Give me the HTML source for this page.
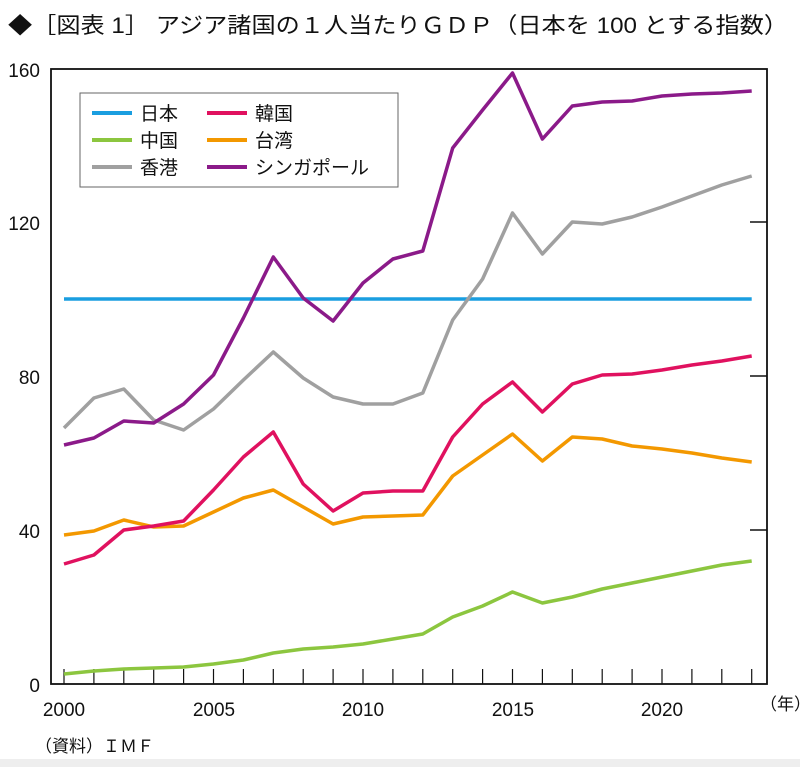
<!DOCTYPE html>
<html><head><meta charset="utf-8"><style>
body{margin:0;background:#fff;width:800px;height:767px;overflow:hidden}
text{font-family:"Liberation Sans","Noto Sans CJK JP",sans-serif;fill:#111}
</style></head><body>
<svg width="800" height="767" xmlns="http://www.w3.org/2000/svg">
<rect x="0" y="759" width="800" height="8" fill="#eeeeee"/>
<text x="8" y="33" font-size="22" textLength="780" lengthAdjust="spacingAndGlyphs">◆［図表 1］ アジア諸国の１人当たりＧＤＰ（日本を 100 とする指数）</text>
<rect x="51" y="69" width="716" height="615" fill="none" stroke="#111" stroke-width="1.8"/>
<g stroke="#111" stroke-width="1.5">
<line x1="750" y1="222" x2="767" y2="222"/><line x1="750" y1="376" x2="767" y2="376"/><line x1="750" y1="530" x2="767" y2="530"/>
<path id="tk" d=""/>
</g>
<g stroke="#111" stroke-width="1.2" id="ticks"></g>
<g font-size="19">
<text x="40" y="77" text-anchor="end">160</text>
<text x="40" y="230" text-anchor="end">120</text>
<text x="40" y="384" text-anchor="end">80</text>
<text x="40" y="538" text-anchor="end">40</text>
<text x="40" y="692" text-anchor="end">0</text>
<text x="64" y="716" text-anchor="middle">2000</text>
<text x="214" y="716" text-anchor="middle">2005</text>
<text x="363" y="716" text-anchor="middle">2010</text>
<text x="513" y="716" text-anchor="middle">2015</text>
<text x="662" y="716" text-anchor="middle">2020</text>
<text x="760" y="710" font-size="17">（年）</text>
<text x="35" y="752" font-size="17">（資料）ＩＭＦ</text>
</g>
<g fill="none" stroke-width="3.5" stroke-linejoin="round" id="lines"></g>
<rect x="80" y="93" width="318" height="94" fill="#fff" stroke="#666" stroke-width="1"/>
<g stroke-width="4">
<line x1="92" y1="113" x2="132" y2="113" stroke="#1a9ee0"/>
<line x1="92" y1="140" x2="132" y2="140" stroke="#8cc63f"/>
<line x1="92" y1="167" x2="132" y2="167" stroke="#a0a0a0"/>
<line x1="207" y1="113" x2="247" y2="113" stroke="#e0115f"/>
<line x1="207" y1="140" x2="247" y2="140" stroke="#f39800"/>
<line x1="207" y1="167" x2="247" y2="167" stroke="#8b1a89"/>
</g>
<g font-size="19">
<text x="140" y="120">日本</text><text x="140" y="147">中国</text><text x="140" y="174">香港</text>
<text x="255" y="120">韓国</text><text x="255" y="147">台湾</text><text x="255" y="174">シンガポール</text>
</g>
</svg>
<script>
var ns="http://www.w3.org/2000/svg";
var t=document.getElementById("ticks");
for(var i=0;i<24;i++){var x=64+29.9*i;var l=document.createElementNS(ns,"line");l.setAttribute("x1",x);l.setAttribute("x2",x);l.setAttribute("y1",669);l.setAttribute("y2",684);t.appendChild(l);}
var d={
"#1a9ee0":Array(24).fill(299),
"#8cc63f":[674,671,669,668,667,664,660,653,649,647,644,639,634,617,606,592,603,597,589,583,577,571,565,561],
"#f39800":[535,531,520,527,526,512,498,490,507,524,517,516,515,476,455,434,461,437,439,446,449,453,458,462],
"#e0115f":[564,555,530,526,521,490,457,432,484,511,493,491,491,437,404,382,412,384,375,374,370,365,361,356],
"#a0a0a0":[428,398,389,420,430,409,380,352,378,397,404,404,393,320,279,213,254,222,224,217,207,196,185,176],
"#8b1a89":[445,438,421,423,404,375,318,257,298,321,283,259,251,148,110,73,139,106,102,101,96,94,93,91]};
var g=document.getElementById("lines");
for(var c in d){var p=d[c].map(function(y,i){return (64+29.9*i).toFixed(1)+","+y}).join(" ");
var e=document.createElementNS(ns,"polyline");e.setAttribute("points",p);e.setAttribute("stroke",c);g.appendChild(e);}
</script>
</body></html>
